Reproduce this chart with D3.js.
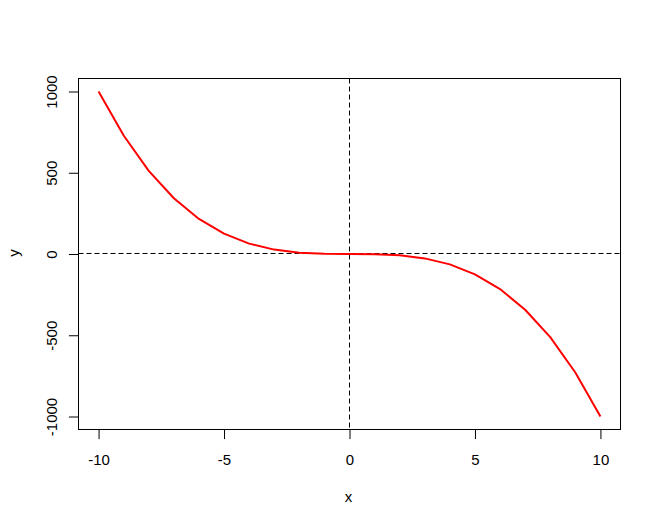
<!DOCTYPE html>
<html><head><meta charset="utf-8">
<script src="https://cdn.jsdelivr.net/npm/d3@7"></script>
<style>body{margin:0;background:#fff}svg{display:block}text{font-family:"Liberation Sans",Arial,sans-serif;font-size:15px;fill:#000}</style>
</head><body>
<script>
const xValues = [-10,-9,-8,-7,-6,-5,-4,-3,-2,-1,0,1,2,3,4,5,6,7,8,9,10];
const yValues = [1000,729,512,343,216,125,64,27,8,1,0,-1,-8,-27,-64,-125,-216,-343,-512,-729,-1000];
const xTicks = [-10,-5,0,5,10];
const yTicks = [-1000,-500,0,500,1000];
const xLabel = "x", yLabel = "y";

const W = 661, H = 527;
const L = 78.5, R = 620.5, T = 78.5, B = 429.5;
const svg = d3.select("body").append("svg").attr("width", W).attr("height", H);

const x = d3.scaleLinear().domain([-10.8, 10.8]).range([L, R]);
const y = d3.scaleLinear().domain([-1080, 1080]).range([B, T]);

svg.append("clipPath").attr("id","c").append("rect")
  .attr("x", L).attr("y", T).attr("width", R-L).attr("height", B-T);

const g = svg.append("g").attr("clip-path","url(#c)");
const hy = Math.floor(y(0) - 0.5) + 0.5, vx = Math.floor(x(0) - 0.5) + 0.5;
g.append("line").attr("x1", L).attr("x2", R).attr("y1", hy).attr("y2", hy)
  .attr("stroke","#000").attr("stroke-width",1).attr("stroke-dasharray","5,3");
g.append("line").attr("y1", T).attr("y2", B).attr("x1", vx).attr("x2", vx)
  .attr("stroke","#000").attr("stroke-width",1).attr("stroke-dasharray","5,3");

const pts = xValues.map((v,i)=>[v,yValues[i]]);
g.append("path").datum(pts)
  .attr("d", d3.line().x(d=>x(d[0])).y(d=>y(d[1])))
  .attr("fill","none").attr("stroke","#ff0000").attr("stroke-width",2).attr("stroke-linejoin","round");

svg.append("rect").attr("x", L).attr("y", T).attr("width", R-L).attr("height", B-T)
  .attr("fill","none").attr("stroke","#000").attr("stroke-width",1);

const xa = svg.append("g").attr("transform", `translate(0,${B})`)
  .call(d3.axisBottom(x).tickValues(xTicks).tickSize(9.6).tickPadding(0).tickFormat(d3.format("d")));
xa.select(".domain").attr("d", `M${x(xTicks[0])},0H${x(xTicks[xTicks.length-1])}`);
xa.selectAll("text").attr("dy", null).attr("y", 35).style("font-size","15px").style("font-family","Liberation Sans, Arial, sans-serif")
  .text(d => d < 0 ? "-" + Math.abs(d) : d);

const ya = svg.append("g").attr("transform", `translate(${L},0)`)
  .call(d3.axisLeft(y).tickValues(yTicks).tickSize(9.6).tickPadding(0));
ya.select(".domain").attr("d", `M0,${y(yTicks[0])}V${y(yTicks[yTicks.length-1])}`);
ya.selectAll(".tick text").remove();
ya.selectAll(".tick").append("text")
  .attr("transform","rotate(-90)").attr("x",0).attr("y",-21.5)
  .attr("text-anchor","middle").style("font-size","15px").style("font-family","Liberation Sans, Arial, sans-serif")
  .attr("fill","#000")
  .text(d => d < 0 ? "-" + Math.abs(d) : d);

svg.append("text").attr("x", (L+R)/2 - 1).attr("y", 502).attr("text-anchor","middle").text(xLabel);
svg.append("text").attr("transform", `translate(19,${(T+B)/2 - 1}) rotate(-90)`).attr("text-anchor","middle").text(yLabel);
</script>
</body></html>
